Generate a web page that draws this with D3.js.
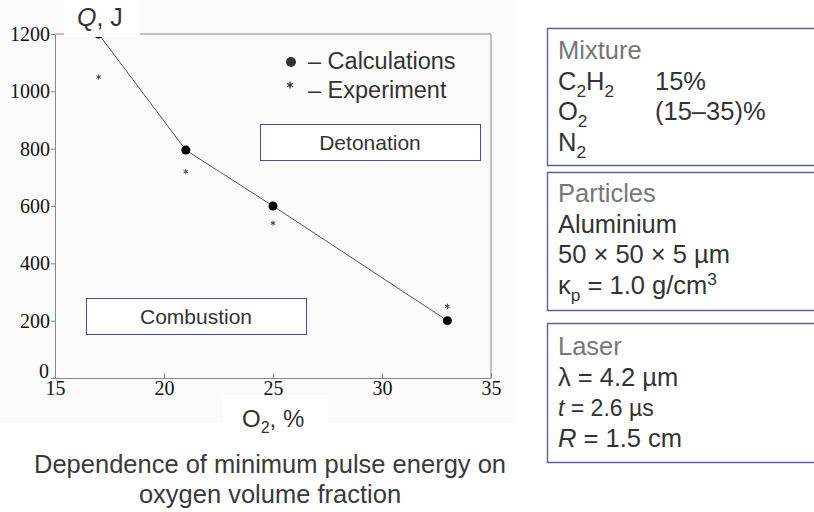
<!DOCTYPE html>
<html>
<head>
<meta charset="utf-8">
<script src="https://cdn.jsdelivr.net/npm/d3@7"></script>
<style>
  body { margin: 0; background: #fff; }
  svg { display: block; }
  .sans { font-family: "Liberation Sans", Arial, sans-serif; }
  .axis text { font-family: "Liberation Serif", "Times New Roman", serif; font-size: 20px; fill: #111; }
  .axis .domain, .axis line { stroke: #888; }
</style>
</head>
<body>
<div id="chart"></div>
<script>
// data
const xTicks = [15, 20, 25, 30, 35];
const yTicks = [0, 200, 400, 600, 800, 1000, 1200];
const calcO2 = [17, 21, 25, 33];
const calcQ = [1200, 795, 600, 200];
const expO2 = [17, 21, 25, 33];
const expQ = [1050, 720, 540, 250];

const legendLabels = ["– Calculations", "– Experiment"];
const regionLabels = ["Detonation", "Combustion"];
const captionLines = ["Dependence of minimum pulse energy on", "oxygen volume fraction"];

// right-hand panels: title + rich lines (segments: [text, kind])
const mixtureLines = [
  [["C"], ["2", "sub"], ["H"], ["2", "sub"]],
  [["O"], ["2", "sub"]],
  [["N"], ["2", "sub"]]
];
const mixtureValues = ["15%", "(15–35)%"];
const particleLines = [
  [["Aluminium"]],
  [["50 × 50 × 5 µm"]],
  [["κ"], ["p", "sub"], [" = 1.0 g/cm"], ["3", "sup"]]
];
const laserLines = [
  [["λ = 4.2 µm"]],
  [["t", "it"], [" = 2.6 µs"]],
  [["R", "it"], [" = 1.5 cm"]]
];

const width = 814, height = 512;
const svg = d3.select("#chart").append("svg")
  .attr("width", width)
  .attr("height", height);

// faint scan background behind the chart
svg.append("rect")
  .attr("x", 0).attr("y", 0).attr("width", 515).attr("height", 423)
  .attr("fill", "#fbfbfb");

const x = d3.scaleLinear().domain([15, 35]).range([55, 491]);
const y = d3.scaleLinear().domain([0, 1200]).range([378, 34]);

// frame top and right
svg.append("path")
  .attr("d", `M${x(15)},${y(1200)}H${x(35)}V${y(0)}`)
  .attr("fill", "none")
  .attr("stroke", "#888");

const xAxis = svg.append("g")
  .attr("class", "axis")
  .attr("transform", `translate(0,${y(0)})`)
  .call(d3.axisBottom(x).tickValues(xTicks).tickFormat(d3.format("d"))
    .tickSizeInner(-5).tickSizeOuter(0).tickPadding(3));

const yAxis = svg.append("g")
  .attr("class", "axis")
  .attr("transform", `translate(${x(15)},0)`)
  .call(d3.axisLeft(y).tickValues(yTicks).tickFormat(d3.format("d"))
    .tickSizeInner(4).tickSizeOuter(0).tickPadding(1));

// the zero label sits a little high and left in the original
yAxis.selectAll(".tick text").filter(d => d === 0).attr("y", -7).attr("x", -6);

// calculations
const calc = calcO2.map((v, i) => ({ o2: v, q: calcQ[i] }));
const exp = expO2.map((v, i) => ({ o2: v, q: expQ[i] }));

svg.append("path")
  .datum(calc)
  .attr("fill", "none")
  .attr("stroke", "#555")
  .attr("stroke-width", 1)
  .attr("d", d3.line().x(d => x(d.o2)).y(d => y(d.q)));

svg.selectAll("circle.calc")
  .data(calc).enter()
  .append("circle")
    .attr("class", "calc")
    .attr("cx", d => x(d.o2))
    .attr("cy", d => y(d.q))
    .attr("r", 4.5)
    .attr("fill", "#000");

const star = d3.symbol(d3.symbolAsterisk, 18);
svg.selectAll("path.exp")
  .data(exp).enter()
  .append("path")
    .attr("class", "exp")
    .attr("transform", d => `translate(${x(d.o2)},${y(d.q)})`)
    .attr("d", star)
    .attr("fill", "none")
    .attr("stroke", "#444")
    .attr("stroke-width", 1);

// white patch behind the y label
svg.append("rect")
  .attr("x", 64).attr("y", 0).attr("width", 76).attr("height", 37)
  .attr("fill", "#fff");

const qLabel = svg.append("text")
  .attr("class", "sans")
  .attr("x", 77).attr("y", 26)
  .attr("font-size", 25)
  .attr("fill", "#333");
qLabel.append("tspan").attr("font-style", "italic").text("Q");
qLabel.append("tspan").text(", J");

// legend
svg.append("circle")
  .attr("cx", 291).attr("cy", 62).attr("r", 5)
  .attr("fill", "#333");
svg.append("path")
  .attr("transform", "translate(290,85)")
  .attr("d", d3.symbol(d3.symbolAsterisk, 34))
  .attr("fill", "none")
  .attr("stroke", "#333")
  .attr("stroke-width", 1.3);
svg.selectAll("text.legend")
  .data(legendLabels).enter()
  .append("text")
    .attr("class", "sans legend")
    .attr("x", 308)
    .attr("y", (d, i) => 69 + i * 29)
    .attr("font-size", 23.5)
    .attr("fill", "#333")
    .text(d => d);

// region boxes
const regions = [
  { label: regionLabels[0], x0: 260, x1: 480, y0: 124, y1: 160 },
  { label: regionLabels[1], x0: 86, x1: 306, y0: 298, y1: 334 }
];
const reg = svg.selectAll("g.region").data(regions).enter().append("g").attr("class", "region");
reg.append("rect")
  .attr("x", d => d.x0 + 0.5).attr("y", d => d.y0 + 0.5)
  .attr("width", d => d.x1 - d.x0).attr("height", d => d.y1 - d.y0)
  .attr("fill", "#fff")
  .attr("stroke", "#4a4ab0");
reg.append("text")
  .attr("class", "sans")
  .attr("x", d => (d.x0 + d.x1) / 2)
  .attr("y", d => d.y1 - 10)
  .attr("text-anchor", "middle")
  .attr("font-size", 21)
  .attr("fill", "#333")
  .text(d => d.label);

// x label
svg.append("rect")
  .attr("x", 223).attr("y", 395).attr("width", 105).attr("height", 28)
  .attr("fill", "#fff");
const xLabel = svg.append("text")
  .attr("class", "sans")
  .attr("x", 242).attr("y", 427)
  .attr("font-size", 24)
  .attr("fill", "#333");
xLabel.append("tspan").text("O");
xLabel.append("tspan").attr("font-size", 16).attr("dy", 6).text("2");
xLabel.append("tspan").attr("dy", -6).text(", %");

// caption
svg.selectAll("text.caption")
  .data(captionLines).enter()
  .append("text")
    .attr("class", "sans caption")
    .attr("x", 270)
    .attr("y", (d, i) => 473 + i * 30)
    .attr("text-anchor", "middle")
    .attr("font-size", 25.5)
    .attr("fill", "#3a3a3a")
    .text(d => d);

// right panels
function richLine(sel, segs, size) {
  let shift = 0;
  segs.forEach(([t, kind]) => {
    const ts = sel.append("tspan").text(t);
    let target = 0;
    if (kind === "sub") { target = 7; ts.attr("font-size", size * 0.68); }
    else if (kind === "sup") { target = -9; ts.attr("font-size", size * 0.68); }
    if (kind === "it") ts.attr("font-style", "italic");
    if (target !== shift) { ts.attr("dy", target - shift); shift = target; }
  });
}

const panels = [
  { title: "Mixture", lines: mixtureLines, top: 28, bottom: 165, base: 59 },
  { title: "Particles", lines: particleLines, top: 172, bottom: 310, base: 202 },
  { title: "Laser", lines: laserLines, top: 323, bottom: 462, base: 355 }
];
const fs = 25.5;
panels.forEach(p => {
  const g = svg.append("g");
  g.append("path")
    .attr("d", `M820,${p.top + 0.5}H547.5V${p.bottom + 0.5}H820`)
    .attr("fill", "none")
    .attr("stroke", "#5c5caa")
    .attr("stroke-width", 1.4);
  g.append("text")
    .attr("class", "sans")
    .attr("x", 558).attr("y", p.base)
    .attr("font-size", fs)
    .attr("fill", "#777")
    .text(p.title);
  p.lines.forEach((segs, i) => {
    const t = g.append("text")
      .attr("class", "sans")
      .attr("x", 558).attr("y", p.base + (i + 1) * 30.7)
      .attr("font-size", p.title === "Laser" && i === 1 ? 23 : fs)
      .attr("fill", "#333");
    richLine(t, segs, fs);
  });
  if (p.title === "Mixture") {
    mixtureValues.forEach((v, i) => {
      g.append("text")
        .attr("class", "sans")
        .attr("x", 655).attr("y", p.base + (i + 1) * 30.7)
        .attr("font-size", fs)
        .attr("fill", "#333")
        .text(v);
    });
  }
});
</script>
</body>
</html>
